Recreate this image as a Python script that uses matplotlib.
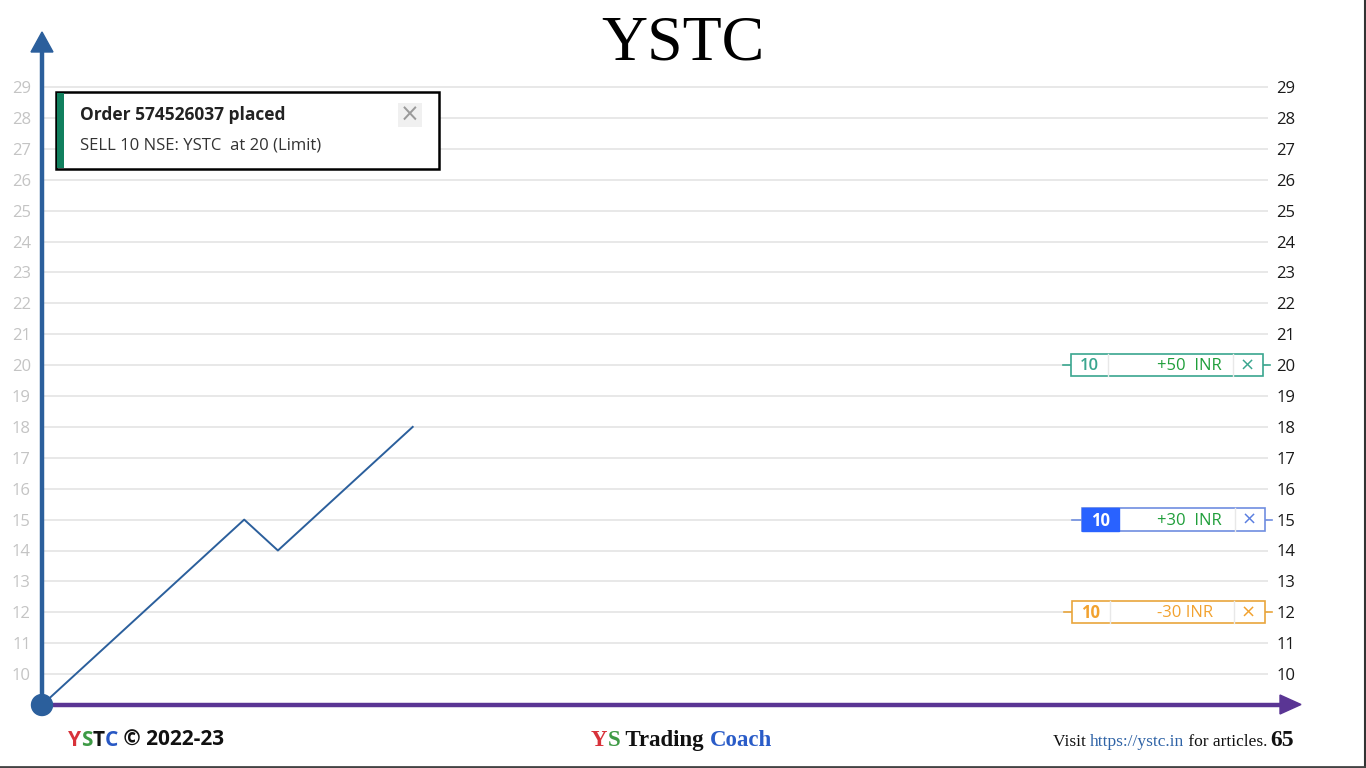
import matplotlib
matplotlib.use("Agg")
import matplotlib.pyplot as plt
import matplotlib.transforms as mtransforms
from matplotlib.patches import Rectangle, Circle, Polygon

# price path
steps = list(range(12))
prices = [9, 10, 11, 12, 13, 14, 15, 14, 15, 16, 17, 18]
yticks = list(range(10, 30))

# open positions / orders shown on the right scale
order_levels = [20, 15, 12]
order_qty = [10, 10, 10]
order_pnl = ["+50  INR", "+30  INR", "-30 INR"]

title = "YSTC"
note_head = "Order 574526037 placed"
note_body = "SELL 10 NSE: YSTC  at 20 (Limit)"
page_no = "65"

W, H = 1366, 768
fig = plt.figure(figsize=(W / 100, H / 100), dpi=100)
fig.patch.set_facecolor("white")

# main axes, placed in pixel terms
L, R, B, T = 42, 1268, 705, 55
ax = fig.add_axes([L / W, (H - B) / H, (R - L) / W, (B - T) / H])
ax.set_xlim(0, (R - L) / 33.7)
ax.set_ylim(9, 9 + (B - T) / 30.9)
ax.set_facecolor("none")
for s in ax.spines.values():
    s.set_visible(False)
ax.set_xticks([])
ax.set_yticks(yticks)
ax.yaxis.grid(True, color="#e2e2e2", lw=1.1)
ax.tick_params(axis="y", length=0, labelsize=12, labelcolor="#c4c4c4", pad=8)
for lab in ax.get_yticklabels():
    lab.set_fontfamily("Open Sans")

# right labels in black
ax2 = ax.twinx()
ax2.set_ylim(ax.get_ylim())
ax2.set_yticks(yticks)
ax2.tick_params(axis="y", length=0, labelsize=12, labelcolor="#1a1a1a", pad=6)
for lab in ax2.get_yticklabels():
    lab.set_fontfamily("Open Sans")
for s in ax2.spines.values():
    s.set_visible(False)

ax.plot(steps, prices, color="#2b5f9c", lw=1.4, zorder=3)

# order boxes (x in pixels -> axes fraction, y in data)
bt = mtransforms.blended_transform_factory(ax.transAxes, ax.transData)
def fx(px):
    return (px - L) / (R - L)

box_style = [
    dict(x0=1071, x1=1263, q1=1108, sep=1233, edge="#3aa68f", fill=None,
         qcol="#3aa68f", pcol="#1f9e3a", pr=1222, xcol="#3aa68f", cl=1063),
    dict(x0=1082, x1=1265, q1=1119, sep=1235, edge="#6f8ee0", fill="#2962ff",
         qcol="white", pcol="#1f9e3a", pr=1222, xcol="#5b7fe0", cl=1072),
    dict(x0=1072, x1=1265, q1=1110, sep=1234, edge="#e9a53c", fill=None,
         qcol="#f2a22f", pcol="#f2a22f", pr=1213, xcol="#f2a22f", cl=1064),
]
hh = 0.36
for lvl, q, pnl, st in zip(order_levels, order_qty, order_pnl, box_style):
    ax.add_patch(Rectangle((fx(st["x0"]), lvl - hh), fx(st["x1"]) - fx(st["x0"]), 2 * hh,
                           transform=bt, facecolor="white", edgecolor=st["edge"],
                           lw=1.2, clip_on=False, zorder=5))
    if st["fill"]:
        ax.add_patch(Rectangle((fx(st["x0"]), lvl - hh), fx(st["q1"]) - fx(st["x0"]), 2 * hh,
                               transform=bt, facecolor=st["fill"], edgecolor=st["fill"],
                               lw=1, clip_on=False, zorder=6))
    else:
        ax.plot([fx(st["q1"])] * 2, [lvl - hh, lvl + hh], transform=bt,
                color="#e8e8e8", lw=1, clip_on=False, zorder=6)
    ax.plot([fx(st["sep"])] * 2, [lvl - hh, lvl + hh], transform=bt,
            color="#e8e8e8", lw=1, clip_on=False, zorder=6)
    ax.plot([fx(st["cl"]), fx(st["x0"])], [lvl, lvl], transform=bt,
            color=st["edge"], lw=1.2, clip_on=False, zorder=4)
    ax.plot([fx(st["x1"]), fx(st["x1"] + 7)], [lvl, lvl], transform=bt,
            color=st["edge"], lw=1.2, clip_on=False, zorder=4)
    ax.text(fx((st["x0"] + st["q1"]) / 2), lvl - 0.03, str(q), transform=bt, ha="center",
            va="center", color=st["qcol"], fontsize=12, family="Open Sans",
            fontweight="bold" if st["fill"] or st["qcol"] == "#f2a22f" else "semibold",
            zorder=7, clip_on=False)
    ax.text(fx(st["pr"]), lvl - 0.03, pnl, transform=bt, ha="right", va="center",
            color=st["pcol"], fontsize=12, family="Open Sans", zorder=7, clip_on=False)
    ax.text(fx(st["sep"] + 14), lvl, "\u00d7", transform=bt, ha="center", va="center",
            color=st["xcol"], fontsize=13, family="DejaVu Sans", zorder=7, clip_on=False)

# overlay in pixel coords for decorations
ov = fig.add_axes([0, 0, 1, 1], zorder=10)
ov.set_xlim(0, W)
ov.set_ylim(H, 0)
ov.axis("off")
ov.patch.set_alpha(0)

# axes arrows
ov.plot([42, 42], [705, 48], color="#2b5f9c", lw=3.2, solid_capstyle="butt")
ov.add_patch(Polygon([[31, 52], [53, 52], [42, 32]], closed=True, color="#2b5f9c"))
ov.plot([42, 1282], [705, 705], color="#5a3594", lw=3.2, solid_capstyle="butt")
ov.add_patch(Polygon([[1280, 695], [1280, 714], [1301, 704.5]], closed=True, color="#5a3594"))
ov.add_patch(Circle((42, 705), 10.5, color="#2b5f9c", zorder=5))

# title
ov.text(683, 45, title, ha="center", va="center", fontsize=46, family="Liberation Serif",
        color="black")

# notification card
ov.add_patch(Rectangle((56, 92), 383, 77, facecolor="white", edgecolor="black", lw=1.8))
ov.add_patch(Rectangle((57, 93), 7, 75, facecolor="#11805e", edgecolor="none"))
ov.text(80, 115, note_head, ha="left", va="center", fontsize=12.5, fontweight="bold",
        family="Open Sans", color="#222222")
ov.text(80, 146, note_body, ha="left", va="center", fontsize=12, family="Open Sans",
        color="#333333")
ov.add_patch(Rectangle((398, 103), 24, 24, facecolor="#f0f0f0", edgecolor="none"))
ov.text(410, 115, "\u00d7", ha="center", va="center", fontsize=17, color="#9a9a9a",
        family="DejaVu Sans")

# footer pieces laid out left to right
def chain(x, y, parts, **kw):
    prev = ov.text(x, y, parts[0][0], color=parts[0][1], ha="left", va="baseline", **kw)
    for s, c in parts[1:]:
        prev = ov.annotate(s, xy=(1, 0), xycoords=prev, va="bottom", ha="left",
                           color=c, annotation_clip=False, **kw)
    return prev

chain(68, 746, [("Y", "#d8323a"), ("S", "#3e9a45"), ("T", "#111111"), ("C", "#2858c4"),
                (" \u00a9 2022-23", "#111111")],
      fontsize=15, fontweight="bold", family="Open Sans")
chain(591, 746, [("Y", "#d8323a"), ("S", "#3e9a45"), (" Trading ", "#111111"),
                 ("Coach", "#2a5cc8")],
      fontsize=16.5, fontweight="bold", family="Liberation Serif")
chain(1053, 746, [("Visit ", "#111111"), ("https://ystc.in", "#2f63a6"),
                  (" for articles.", "#111111")],
      fontsize=12.5, family="Liberation Serif")
ov.text(1270, 746, page_no, ha="left", va="baseline", fontsize=17, fontweight="bold",
        family="Liberation Serif", color="#111111")

# slide frame edges
ov.plot([1365, 1365], [0, 768], color="#333333", lw=1.5)
ov.plot([0, 1366], [767, 767], color="#444444", lw=2)

fig.savefig("out.png", dpi=100)
